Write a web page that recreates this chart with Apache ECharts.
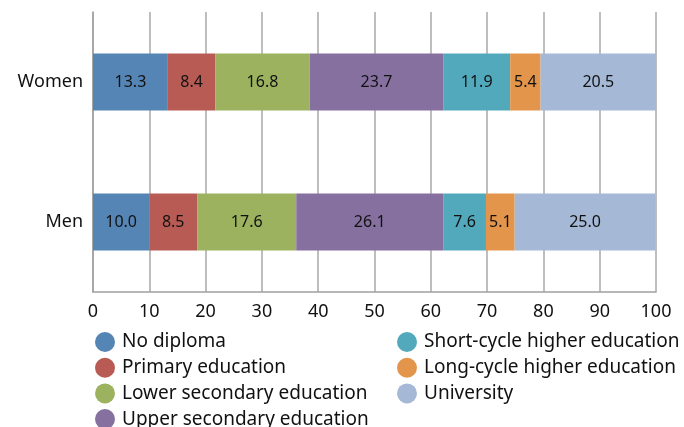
<!DOCTYPE html>
<html>
<head>
<meta charset="utf-8">
<script src="https://cdn.jsdelivr.net/npm/echarts@6/dist/echarts.min.js"></script>
<style>
  html, body { margin: 0; padding: 0; background: #fff; }
</style>
</head>
<body>
<div id="main" style="width: 684px;height:427px;"></div>
<script>
// data
var groups = ['Men', 'Women'];
var levels = ['No diploma', 'Primary education', 'Lower secondary education', 'Upper secondary education',
              'Short-cycle higher education', 'Long-cycle higher education', 'University'];
var menValues = [10.0, 8.5, 17.6, 26.1, 7.6, 5.1, 25.0];
var womenValues = [13.3, 8.4, 16.8, 23.7, 11.9, 5.4, 20.5];
var xTicks = [0, 10, 20, 30, 40, 50, 60, 70, 80, 90, 100];

var colors = ['#5585b5', '#b95b55', '#9db25e', '#8670a0', '#52a9bc', '#e3954c', '#a5b8d6'];
var font = 'Noto Sans';

var myChart = echarts.init(document.getElementById('main'));

var series = [];
for (var i = 0; i < levels.length; i++) {
    series.push({
        name: levels[i],
        type: 'bar',
        stack: 'total',
        barWidth: 57,
        itemStyle: { color: colors[i] },
        label: {
            show: true,
            position: 'inside',
            color: '#111',
            fontFamily: font,
            fontSize: 16,
            formatter: function (p) { return p.value.toFixed(1); }
        },
        data: [menValues[i], womenValues[i]]
    });
}

var legendText = { fontFamily: font, fontSize: 19, color: '#111', padding: [0, 0, 0, 2] };

function makeLegend(left, names) {
    return {
        orient: 'vertical',
        left: left,
        top: 332,
        height: 110,
        padding: 0,
        icon: 'circle',
        itemWidth: 20,
        itemHeight: 20,
        itemGap: 5.7,
        textStyle: legendText,
        data: names
    };
}

var option = {
    animation: false,
    color: colors,
    grid: { left: 93, right: 28, top: 12, bottom: 135 },
    xAxis: {
        type: 'value',
        min: xTicks[0],
        max: xTicks[xTicks.length - 1],
        interval: 10,
        axisLine: { show: true, lineStyle: { color: '#a0a0a0', width: 1.5 } },
        axisTick: { show: false },
        splitLine: { show: true, lineStyle: { color: '#a8a8a8', width: 1.5 } },
        axisLabel: { color: '#111', fontFamily: font, fontSize: 18, margin: 11 }
    },
    yAxis: {
        type: 'category',
        data: groups,
        axisLine: { show: true, lineStyle: { color: '#a0a0a0', width: 1.5 } },
        axisTick: { show: false },
        axisLabel: { color: '#111', fontFamily: font, fontSize: 18, margin: 10 }
    },
    legend: [makeLegend(95, levels.slice(0, 4)), makeLegend(397, levels.slice(4))],
    series: series
};
myChart.setOption(option);
</script>
</body>
</html>
